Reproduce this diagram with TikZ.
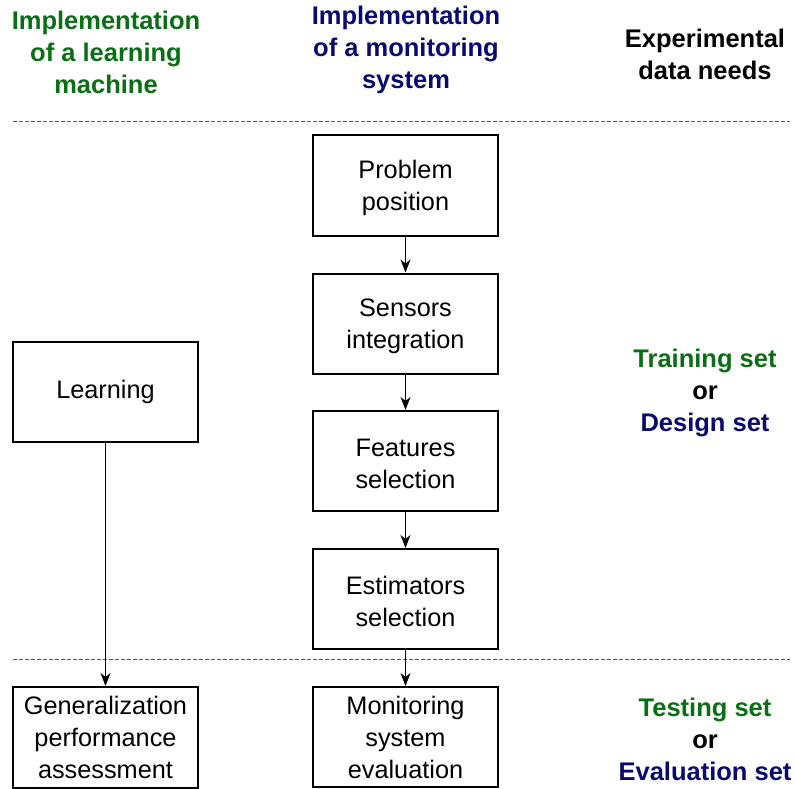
\documentclass[tikz,border=0pt]{standalone}
\usepackage{fontspec}
\setmainfont{Liberation Sans}
\usetikzlibrary{arrows.meta}
\definecolor{hgreen}{RGB}{10,110,20}
\definecolor{hnavy}{RGB}{10,10,110}
\tikzset{
  x=1pt, y=-1pt,
  box/.style={draw, line width=2pt, minimum width=185pt, minimum height=100pt, inner sep=0pt, align=center, font=\fontsize{25.3}{32}\selectfont},
  boxtext/.style={label={[align=center, font=\fontsize{25.3}{32}\selectfont, yshift=-2.5pt]center:#1}},
  head/.style={align=center, font=\fontsize{25.5}{32}\selectfont\bfseries},
  conn/.style={-{Stealth[length=13pt,width=10pt,inset=4pt]}, line width=1pt},
  sep/.style={dashed, gray!70!black, line width=0.8pt, dash pattern=on 4pt off 2pt}
}
\begin{document}
\begin{tikzpicture}
\useasboundingbox (0,0) rectangle (795,789);
% headings
\node[head, text=hgreen] (h1) at (106,52) {Implementation\\of a learning\\machine};
\node[head, text=hnavy] (h2) at (406,50) {Implementation\\of a monitoring\\system};
\node[head] (h3) at (705,54) {Experimental\\data needs};
% separators
\coordinate (s1a) at (13,121); \coordinate (s1b) at (790,121);
\coordinate (s2a) at (13,659); \coordinate (s2b) at (790,659);
\draw[sep] (s1a) -- (s1b);
\draw[sep] (s2a) -- (s2b);
% boxes
\node[box, boxtext={Problem\\position}] (pp) at (405.5,185.5) {};
\node[box, boxtext={Sensors\\integration}] (si) at (405.5,323.5) {};
\node[box, boxtext={Features\\selection}] (fs) at (405.5,461) {};
\node[box, boxtext={Estimators\\selection}] (es) at (405.5,599) {};
\node[box] (le) at (105.5,392) {Learning};
\node[box, minimum height=101pt] (ge) at (105.5,737.5) {Generalization\\performance\\assessment};
\node[box] (mo) at (405.5,737) {Monitoring\\system\\evaluation};
% arrows
\draw[conn] (pp) -- (si);
\draw[conn] (si) -- (fs);
\draw[conn] (fs) -- (es);
\draw[conn] (es) -- (mo);
\draw[conn] (le) -- (ge);
% right labels
\node[head] (tr) at (705,393) {\textcolor{hgreen}{Training set}\\or\\\textcolor{hnavy}{Design set}};
\node[head] (te) at (705,739) {\textcolor{hgreen}{Testing set}\\or\\\textcolor{hnavy}{Evaluation set}};
\end{tikzpicture}
\end{document}
